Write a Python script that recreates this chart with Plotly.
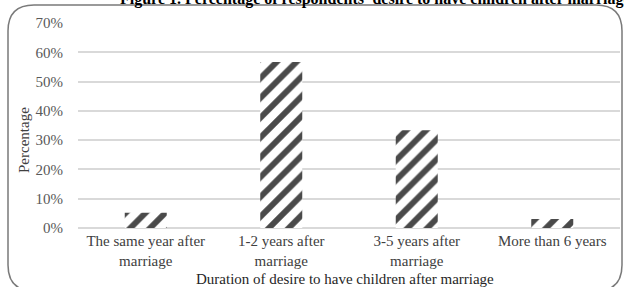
import plotly.graph_objects as go

categories = ["The same year after<br>marriage", "1-2 years after<br>marriage",
              "3-5 years after<br>marriage", "More than 6 years"]
values = [0.052, 0.567, 0.334, 0.031]
tick_vals = [0, 0.1, 0.2, 0.3, 0.4, 0.5, 0.6, 0.7]
tick_text = ["0%", "10%", "20%", "30%", "40%", "50%", "60%", "70%"]

W, H = 624, 287
L, R, T, B = 78, 4, 23, 59
pw, ph = W - L - R, H - T - B

def px(x):
    return (x - L) / pw

def py(y):
    return (H - B - y) / ph

SERIF = "Liberation Serif, Times New Roman, serif"

fig = go.Figure(go.Bar(
    x=categories, y=values, width=0.31,
    marker=dict(color="white", line=dict(width=0),
                pattern=dict(shape="/", fgcolor="#4a4a4a", bgcolor="white",
                             size=14, solidity=0.42, fillmode="replace")),
))

# rounded frame
x0, x1, y0, y1, r = 8, 622, 5, 291, 26
path = (f"M {px(x0)},{py(y0 + r)} Q {px(x0)},{py(y0)} {px(x0 + r)},{py(y0)} "
        f"L {px(x1 - r)},{py(y0)} Q {px(x1)},{py(y0)} {px(x1)},{py(y0 + r)} "
        f"L {px(x1)},{py(y1 - r)} Q {px(x1)},{py(y1)} {px(x1 - r)},{py(y1)} "
        f"L {px(x0 + r)},{py(y1)} Q {px(x0)},{py(y1)} {px(x0)},{py(y1 - r)} Z")

fig.update_layout(
    width=W, height=H,
    margin=dict(l=L, r=R, t=T, b=B),
    paper_bgcolor="white", plot_bgcolor="white",
    showlegend=False,
    font=dict(family=SERIF, size=15, color="#404040"),
    bargap=0.69,
    shapes=[dict(type="path", path=path, xref="paper", yref="paper",
                 line=dict(color="#7a7a7a", width=1.5), layer="below")],
    annotations=[
        dict(text="<b>Figure 1. Percentage of respondents' desire to have children after marriage</b>",
             xref="paper", yref="paper", x=px(375), y=py(10), xanchor="center", yanchor="bottom",
             showarrow=False, font=dict(family=SERIF, size=16, color="black")),
        dict(text="Percentage", xref="paper", yref="paper", x=px(24), y=py(140),
             xanchor="center", yanchor="middle", textangle=-90, showarrow=False,
             font=dict(family=SERIF, size=15, color="#404040")),
        dict(text="Duration of desire to have children after marriage", xref="paper", yref="paper",
             x=px(345), y=py(279), xanchor="center", yanchor="middle", showarrow=False,
             font=dict(family=SERIF, size=15, color="#262626")),
    ],
)
fig.update_yaxes(range=[0, 0.7], tickvals=tick_vals, ticktext=tick_text,
                 showgrid=True, gridcolor="#d9d9d9", gridwidth=1.5,
                 zeroline=True, zerolinecolor="#d9d9d9", zerolinewidth=1.5,
                 showline=False, ticklabelstandoff=14,
                 tickfont=dict(family=SERIF, size=15, color="#595959"))
fig.update_xaxes(showgrid=False, showline=False, ticks="", ticklabelstandoff=2,
                 tickfont=dict(family=SERIF, size=15, color="#404040"))

fig.write_html("out.html", config={"displayModeBar": False},
               post_script="document.body.style.margin='0px';")
